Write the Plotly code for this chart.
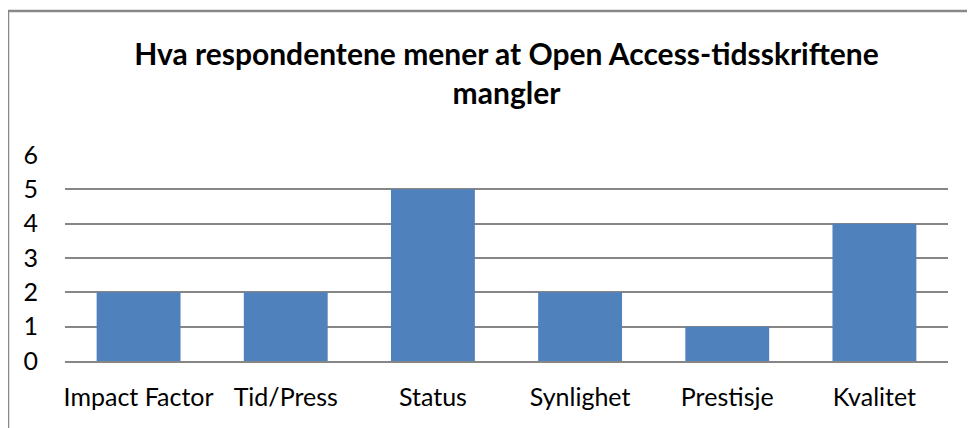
import plotly.graph_objects as go

categories = ["Impact Factor", "Tid/Press", "Status", "Synlighet", "Prestisje", "Kvalitet"]
values = [2, 2, 5, 2, 1, 4]
y_ticks = [0, 1, 2, 3, 4, 5, 6]

fig = go.Figure(go.Bar(x=categories, y=values, marker=dict(color="#4F81BD", line=dict(width=0))))

OFF = 8  # page body margin
W, H = 975 - OFF, 428 - OFF
L, T = 65 - OFF, 155 - OFF
pw, ph = 883, 206
R = W - L - pw
B = H - T - ph

FONT = "Lato, Open Sans, sans-serif"

fig.update_layout(
    width=W, height=H,
    margin=dict(l=L, r=R, t=T, b=B),
    paper_bgcolor="white", plot_bgcolor="white",
    bargap=0.43,
    font=dict(family=FONT, color="#000000"),
    title=dict(
        text="<b>Hva respondentene mener at Open Access-tidsskriftene<br>mangler</b>",
        x=0.5, xanchor="center", xref="paper",
        y=1 - 57 / H, yanchor="top",
        font=dict(size=30, family=FONT, color="#000000"),
    ),
    xaxis=dict(showgrid=False, showline=True, linecolor="#868686", linewidth=2,
               tickfont=dict(size=25), ticks="", ticklabelstandoff=13),
    yaxis=dict(range=[0, 6], tickvals=y_ticks, showgrid=True, gridcolor="#868686", gridwidth=1.5,
               zeroline=False, showline=False, tickfont=dict(size=25), ticks="",
               ticklabelstandoff=26),
    shapes=[dict(type="rect", xref="paper", yref="paper",
                 x0=-L / pw, x1=1.2, y0=-0.6, y1=(H - B - 3) / ph,
                 line=dict(color="#888888", width=2.5), fillcolor="rgba(0,0,0,0)", layer="below")],
)

fig.write_html("out.html")
